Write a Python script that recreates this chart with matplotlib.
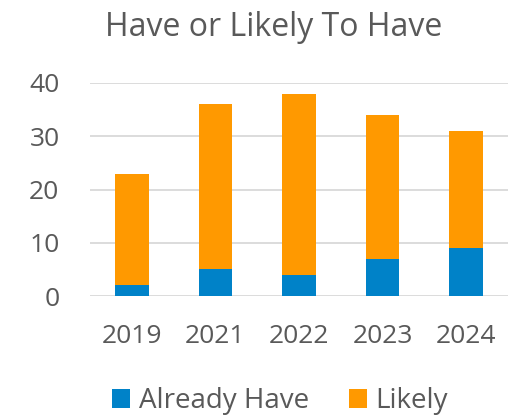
import matplotlib
matplotlib.use('Agg')

import matplotlib.pyplot as plt

plt.rcParams['font.family'] = ['Open Sans', 'DejaVu Sans']

years = ['2019', '2021', '2022', '2023', '2024']
already_have = [2, 5, 4, 7, 9]
likely = [21, 31, 34, 27, 22]

BLUE = '#0082C8'
ORANGE = '#FF9900'
TEXT = '#595959'

fig = plt.figure(figsize=(5.14, 4.16), dpi=100)
ax = fig.add_axes([90 / 514, 1 - 296 / 416, 418 / 514, (296 - 83) / 416])

x = range(len(years))
ax.bar(x, already_have, width=0.4, color=BLUE, label='Already Have', zorder=3)
ax.bar(x, likely, width=0.4, bottom=already_have, color=ORANGE, label='Likely', zorder=3)

ax.set_xlim(-0.5, len(years) - 0.5)
ax.set_ylim(0, 40)
ax.set_yticks([0, 10, 20, 30, 40])
ax.set_xticks(list(x))
ax.set_xticklabels(years)
ax.yaxis.grid(True, color='#D9D9D9', linewidth=1.3, zorder=0)
ax.tick_params(axis='both', length=0, labelsize=19, colors=TEXT)
ax.tick_params(axis='x', pad=20)
ax.tick_params(axis='y', pad=22)
for s in ax.spines.values():
    s.set_visible(False)

fig.text(274 / 514, 1 - 36 / 416, 'Have or Likely To Have', ha='center', va='baseline',
         fontsize=23, color=TEXT)

fig.legend(loc='center', bbox_to_anchor=(280 / 514, 1 - 401 / 416), ncol=2, frameon=False,
           fontsize=20, labelcolor=TEXT, handlelength=0.65, handleheight=0.65,
           handletextpad=0.3, columnspacing=1.45)

fig.savefig('out.png', dpi=100)
